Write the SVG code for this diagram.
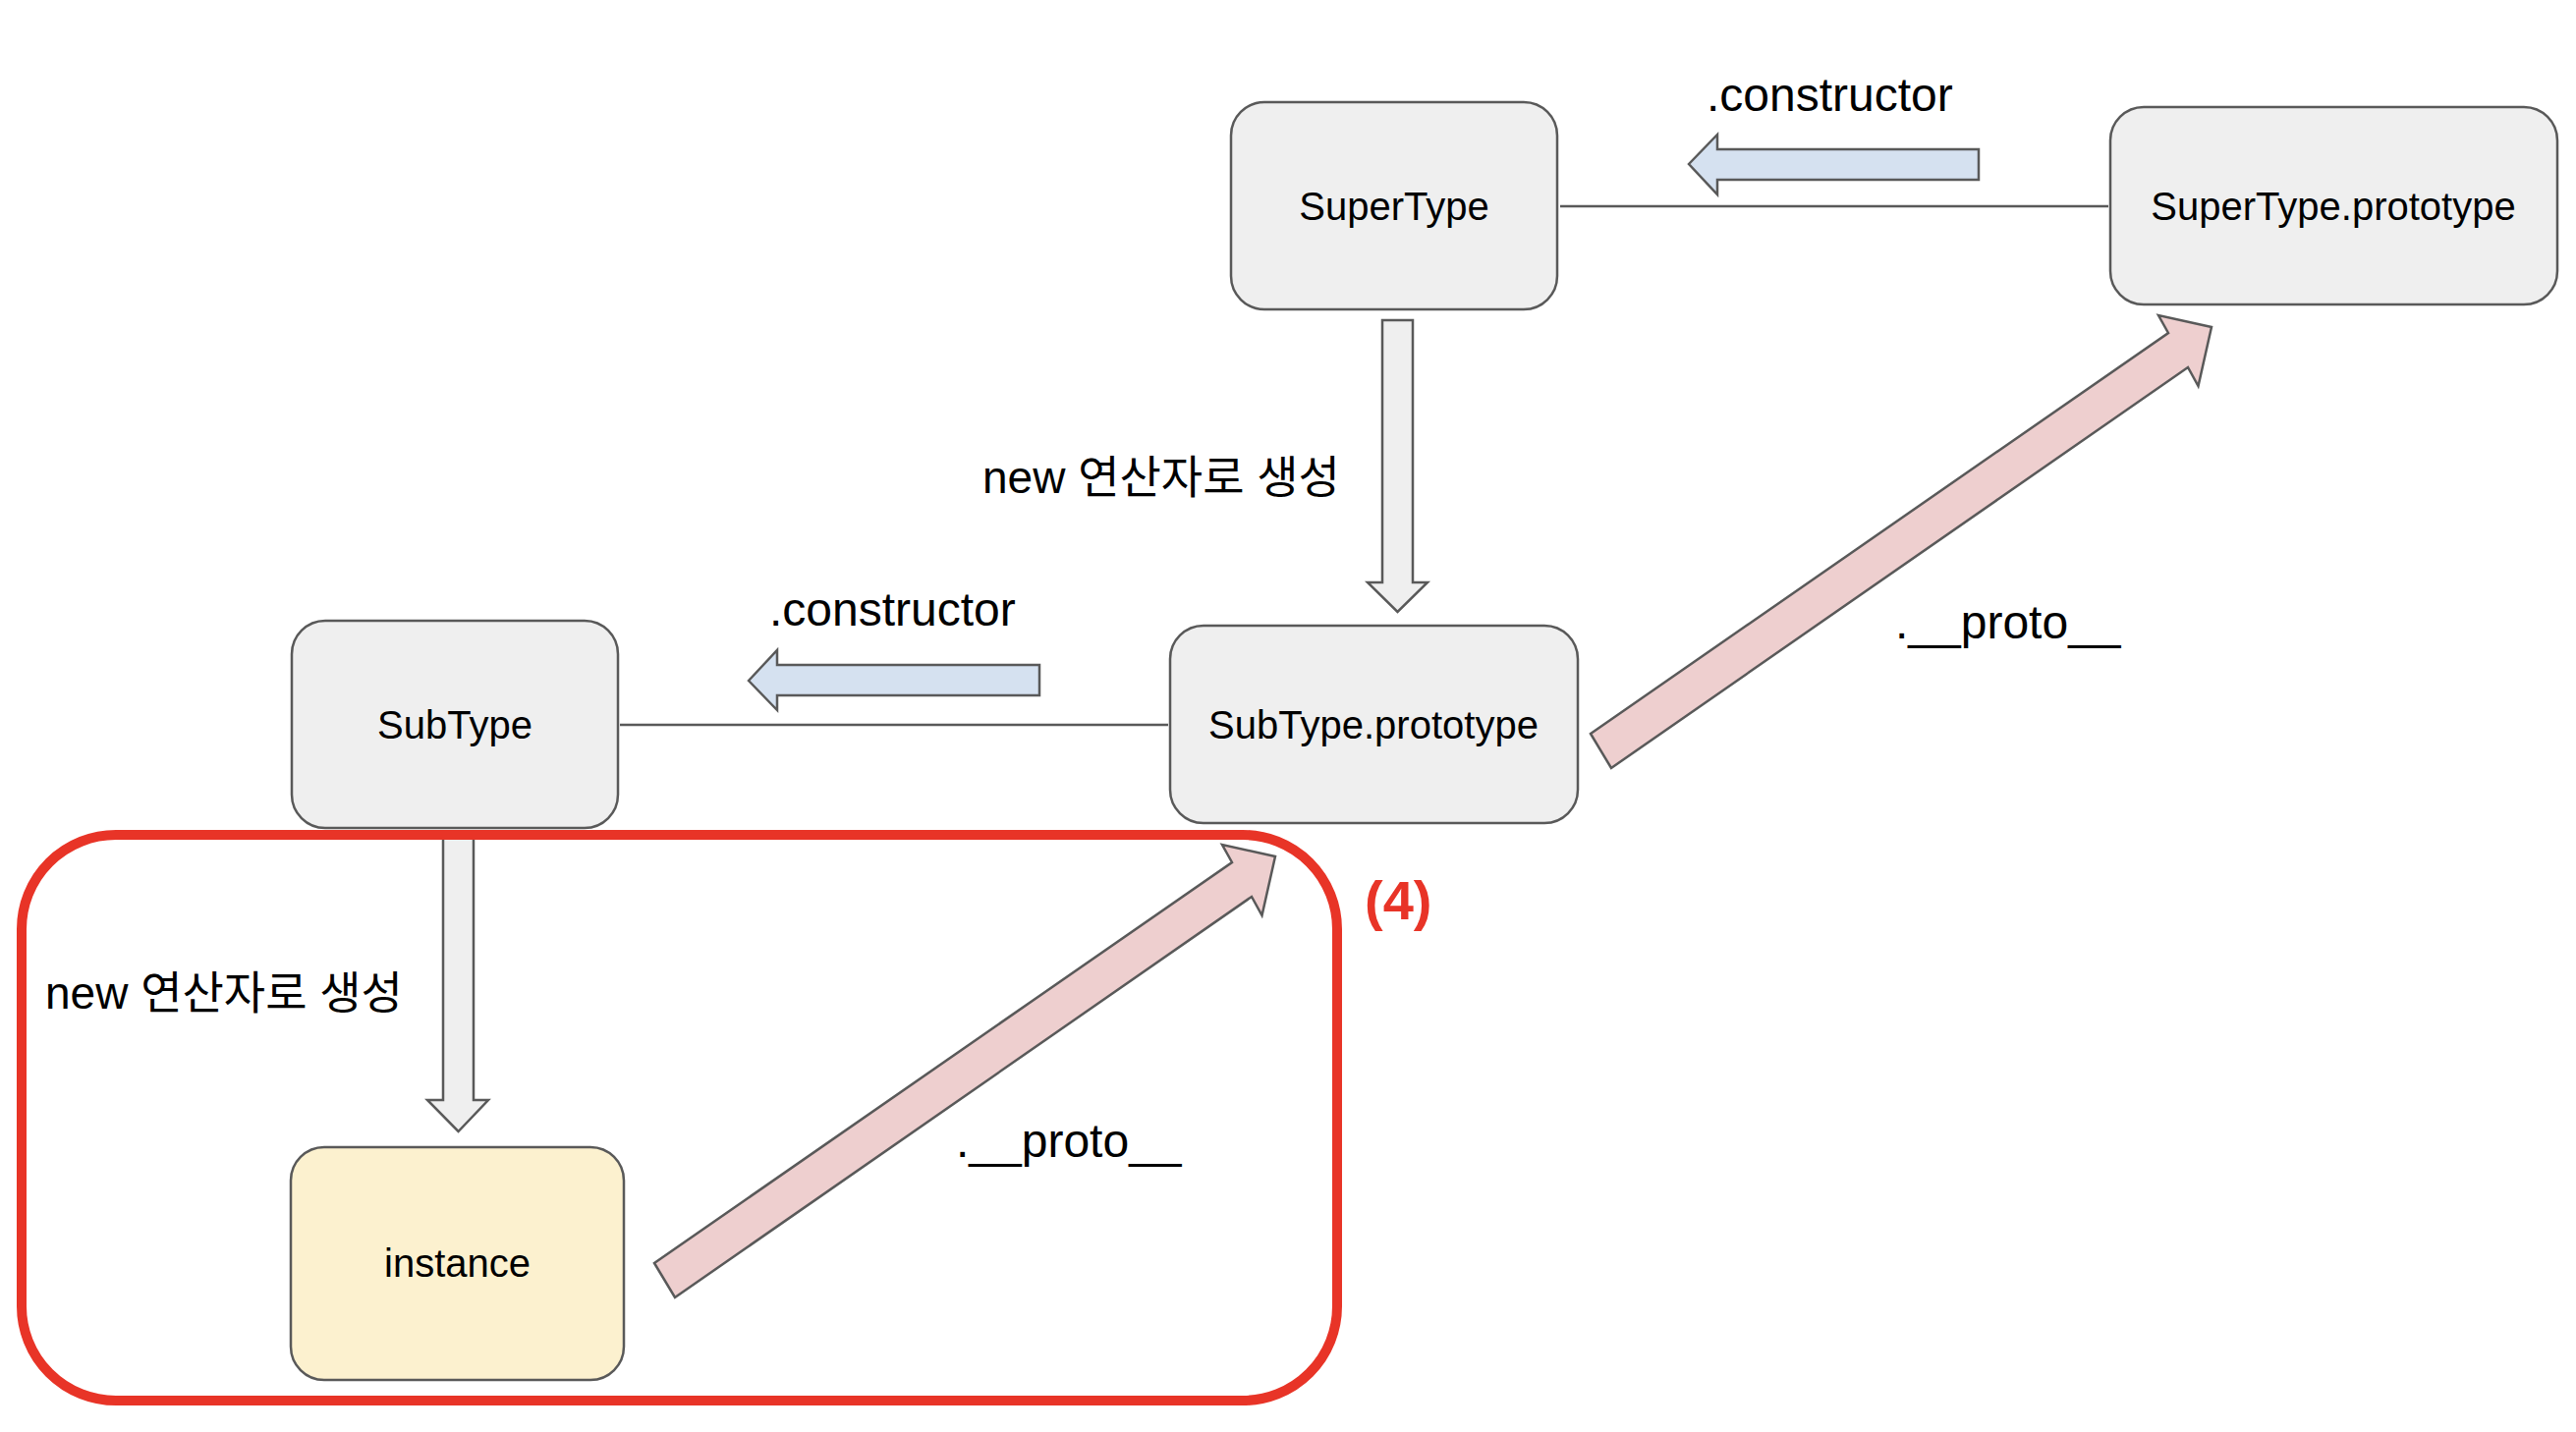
<svg xmlns="http://www.w3.org/2000/svg" width="2622" height="1458" viewBox="0 0 2622 1458">
<style>
.node{fill:#efefef;stroke:#595959;stroke-width:2.5}
.inst{fill:#fcf1cf;stroke:#595959;stroke-width:2.5}
.nt{font-family:"Liberation Sans",Arial,sans-serif;font-size:40px;fill:#000;text-anchor:middle}
.lbl{font-family:"Liberation Sans",Arial,sans-serif;font-size:48px;fill:#000}
.kr{font-family:"Liberation Sans","Noto Sans CJK KR",sans-serif;font-size:46px;fill:#000}
.line{stroke:#595959;stroke-width:2.5;fill:none}
.blue{fill:#d5e1f0;stroke:#595959;stroke-width:2.5;stroke-linejoin:miter}
.grey{fill:#efefef;stroke:#595959;stroke-width:2.5}
.pink{fill:#eecfcf;stroke:#595959;stroke-width:2.5}
</style>
<rect width="2622" height="1458" fill="#ffffff"/>
<g id="connectors">
<line class="line" x1="1588" y1="210" x2="2146" y2="210"/>
<line class="line" x1="631" y1="738" x2="1189" y2="738"/>
<path class="blue" d="M1719,167 L1748,137 L1748,152 L2014,152 L2014,183 L1748,183 L1748,198 Z"/>
<path class="blue" d="M762,693 L791,662 L791,677 L1058,677 L1058,708 L791,708 L791,723 Z"/>
<path class="grey" d="M1407,326 L1438,326 L1438,593 L1453,593 L1422.5,623 L1392,593 L1407,593 Z"/>
<path class="grey" d="M451,853 L482,853 L482,1120 L497,1120 L466.5,1152 L435,1120 L451,1120 Z"/>
<path class="pink" d="M1619,747 L2207,339 L2197,321 L2251,333 L2237.5,393 L2227,374 L1640,782 Z"/>
<path class="pink" d="M666,1286 L1254,878 L1244,860 L1298,872 L1284.5,932 L1274,913 L687,1321 Z"/>
</g>
<g id="node-supertype">
<rect class="node" x="1253" y="104" width="332" height="211" rx="34"/>
<text class="nt" x="1419" y="224">SuperType</text>
</g>
<g id="node-supertype-prototype">
<rect class="node" x="2148" y="109" width="455" height="201" rx="34"/>
<text class="nt" x="2375" y="224">SuperType.prototype</text>
</g>
<g id="node-subtype">
<rect class="node" x="297" y="632" width="332" height="211" rx="34"/>
<text class="nt" x="463" y="752">SubType</text>
</g>
<g id="node-subtype-prototype">
<rect class="node" x="1191" y="637" width="415" height="201" rx="34"/>
<text class="nt" x="1398" y="752">SubType.prototype</text>
</g>
<g id="node-instance">
<rect class="inst" x="296" y="1168" width="339" height="237" rx="34"/>
<text class="nt" x="465.5" y="1300">instance</text>
</g>
<g id="labels">
<text class="lbl" x="1737" y="113">.constructor</text>
<text class="lbl" x="783" y="637">.constructor</text>
<text class="lbl" x="1929" y="650">.__proto__</text>
<text class="lbl" x="973" y="1178">.__proto__</text>
<text class="kr" x="1000" y="502">new 연산자로 생성</text>
<text class="kr" x="46" y="1027">new 연산자로 생성</text>
</g>
<g id="highlight">
<rect x="22" y="850" width="1339" height="576" rx="96" fill="none" stroke="#e83427" stroke-width="10"/>
<text x="1389" y="936" font-family="'Liberation Sans',Arial,sans-serif" font-size="56" font-weight="bold" fill="#e83427">(4)</text>
</g>
</svg>
